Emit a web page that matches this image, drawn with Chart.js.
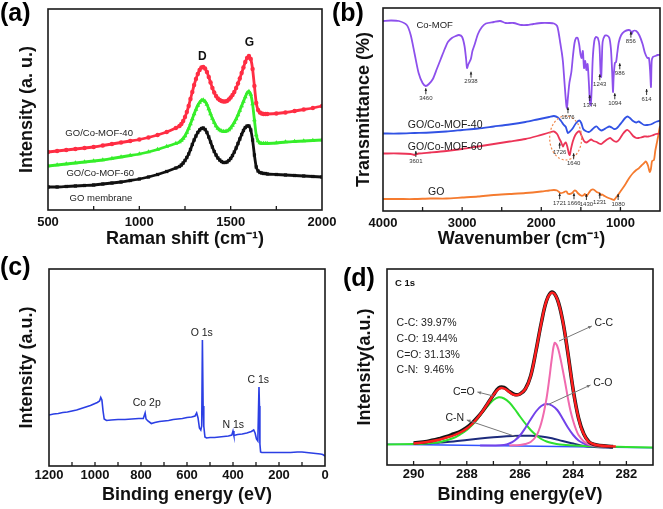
<!DOCTYPE html>
<html><head><meta charset="utf-8">
<script src="https://cdn.jsdelivr.net/npm/chart.js@4.4.1/dist/chart.umd.min.js"></script>
<style>
html,body{margin:0;padding:0;background:#fff;}
#wrap{position:relative;width:663px;height:509px;overflow:hidden;background:#fff;}
canvas{position:absolute;}
.lbl{position:absolute;font:bold 25px "Liberation Sans",Arial,sans-serif;line-height:1;color:#000;}
</style></head><body>
<div id="wrap">
<canvas id="ca" width="345" height="255" style="left:0;top:0"></canvas>
<canvas id="cb" width="332" height="255" style="left:331px;top:0"></canvas>
<canvas id="cc" width="331" height="254" style="left:0;top:255px"></canvas>
<canvas id="cd" width="332" height="254" style="left:331px;top:255px"></canvas>
<div class="lbl" style="left:0;top:0">(a)</div>
<div class="lbl" style="left:332px;top:0">(b)</div>
<div class="lbl" style="left:0;top:254px">(c)</div>
<div class="lbl" style="left:343px;top:265px">(d)</div>
</div>
<script>
// ================= DATA =================
// (a) Raman spectra
const ramanShift = [500,550,600,650,700,750,800,850,900,950,1000,1050,1100,1150,1200,
 1220,1230,1240,1250,1260,1270,1280,1290,1300,1310,1320,1330,1340,1350,1360,1370,1380,1390,1400,1410,
 1420,1430,1440,1450,1460,1470,1480,1490,1500,1510,1520,1530,1540,1550,1560,1570,1580,1590,1600,1610,
 1620,1630,1640,1650,1660,1670,1680,1690,1700,1750,1800,1850,1900,1950,2000];
const ramanMof40 = [58,59,60,61,62,63,64.5,66,67.5,69,70.5,72.5,75,78,82,
 84,86,89,93,98,104,111,118,125,131,136,140,142.5,143,141.5,138,133,127.5,122,117.5,
 114,111.5,110,109,108.5,108.5,109,110.5,112.5,115,118,122,126.5,131.5,137,142.5,148,152,154,151,
 141,124,107,100,97.5,96.5,96,96,96,96.5,97.5,99,100.5,102,104];
const ramanMof60 = [44,45,46,47,48,49,50,51.5,53,54.5,56,58,60.5,63.5,66.5,
 68,69.5,71.5,74,77.5,81.5,86,91,96,100.5,104.5,107.5,109.5,110,108.5,105.5,101,96,91.5,87.5,
 84,81.5,80,79,78.5,78.5,79,80,82,84.5,87.5,91,95,99.5,104,108.5,113,117,118.5,115.5,
 106,90,75,69,67,66.5,66.5,66.5,66.5,67,68,68.5,69,69.5,70];
const ramanGO = [23,23,23.5,24,24.5,25,26,27,28,29.5,31,33,35.5,38.5,42,
 43.5,45,47,49.5,52.5,56,60.5,65.5,70,74,77.5,80,81.5,82,80.5,77.5,73,68,63,58.5,
 55,52,50,48.5,47.5,47.5,48,49.5,51.5,54.5,58,62,66.5,71,75.5,79.5,82.5,84,84,80,
 70,55,43,39,37.5,37,36.5,36.5,36,35.5,35,34.5,34,33.5,33];
const ramanTicks = [500,1000,1500,2000];

// (b) FTIR spectra [wavenumber, transmittance (a.u.)]
const ftirCoMof = [[4000,190],[3900,190.5],[3800,190],[3700,186],[3650,176],[3600,157],[3550,138],[3500,128],[3460,125],
 [3420,127],[3370,132],[3320,142],[3270,152],[3220,162],[3180,169],[3130,173],[3080,175],[3040,176],[3000,174],
 [2970,165],[2950,152],[2938,143],[2920,147],[2890,152],[2870,160],[2840,167],[2800,177],[2750,184],[2700,187.5],
 [2600,189],[2520,190],[2450,188],[2350,188],[2250,186],[2180,186],[2100,187],[2000,188],[1900,188],[1840,187.5],
 [1800,185],[1782,179],[1760,168],[1740,158],[1726,149],[1710,132],[1695,116],[1684,106],[1676,103],[1665,112],
 [1645,128],[1620,139],[1600,155],[1580,168],[1560,173],[1540,173],[1520,166],[1505,157],[1490,153],[1475,160],
 [1460,143],[1445,150],[1430,141],[1415,147],[1400,130],[1385,108],[1374,106],[1362,125],[1350,152],[1330,170],
 [1310,174],[1285,173],[1265,165],[1252,140],[1243,134],[1235,150],[1225,169],[1200,175],[1170,175.5],[1140,173],
 [1120,162],[1105,140],[1094,119],[1085,135],[1070,148],[1055,149],[1040,158],[1020,169],[990,176],[950,179.5],
 [900,181],[870,180],[856,177],[840,180],[800,180],[760,175.5],[720,167],[690,158],[660,153],[640,153],
 [625,140],[614,124],[605,150],[590,154],[560,155],[530,156],[500,156]];
const ftirMof40 = [[4000,77.5],[3800,77.5],[3600,78],[3400,78.5],[3200,79.5],[3000,81],[2800,82.5],[2600,84.5],
 [2400,86.5],[2200,89],[2050,91.5],[1900,94],[1840,95],[1790,93.5],[1750,90],[1720,86.5],[1690,84],[1665,78],
 [1645,79],[1620,81],[1600,83],[1560,88],[1520,90.5],[1495,88],[1470,82],[1440,80],[1400,79],[1370,80.5],
 [1330,83.5],[1300,84.5],[1270,82],[1240,80.5],[1210,81.5],[1170,83.5],[1140,84.5],[1110,83.5],[1080,82],
 [1050,82.5],[1020,85],[980,89],[940,93],[910,94.5],[880,93],[840,90],[800,88.5],[770,89.5],[740,88],
 [700,86],[660,86],[620,86.5],[580,88],[540,89.5],[500,90.5]];
const ftirMof60 = [[4000,57.5],[3800,57.5],[3650,57],[3601,56],[3550,57.5],[3400,58.5],[3200,60],[3000,62],
 [2800,64.5],[2600,67],[2400,69.5],[2200,72],[2050,75],[1900,78.5],[1840,79.5],[1800,77],[1770,72],[1750,69],
 [1726,64.5],[1710,67],[1690,68.5],[1670,64],[1650,57],[1640,56],[1625,62],[1600,70],[1570,76],[1540,79],
 [1515,79.5],[1490,75],[1460,70],[1430,68.5],[1400,70],[1370,71.5],[1340,70],[1300,69],[1270,67.5],[1240,67],
 [1210,69],[1170,71.5],[1130,73],[1100,71],[1070,69.5],[1040,69.5],[1010,72],[970,77],[930,80.5],[910,81],
 [880,79],[840,75],[800,73],[770,73],[740,73.5],[700,74.5],[650,74.5],[600,75.5],[550,77],[500,77.5]];
const ftirGO = [[4000,12],[3800,12],[3600,12],[3400,12.5],[3200,12.5],[3000,13.5],[2800,14.5],[2600,16],[2400,17],
 [2200,18],[2000,19.5],[1900,20.5],[1840,21],[1800,20.5],[1760,18],[1721,18.5],[1700,19.5],[1680,19.5],[1666,17.5],
 [1640,17],[1610,18],[1580,20.5],[1560,20],[1540,18],[1500,15.5],[1470,15.5],[1450,17],[1430,15],[1400,18],
 [1370,21],[1340,21.5],[1300,19],[1270,18],[1240,16],[1231,16.5],[1200,15],[1150,13],[1100,11.5],[1080,11],
 [1060,13],[1030,16],[1000,19.5],[960,24],[920,29],[880,34],[840,38],[800,41],[770,42.5],[740,45],[700,48],
 [680,49.5],[665,48],[650,45],[630,39],[615,42],[600,50],[576,51],[560,60],[540,68],[525,74],[510,81],[500,85]];
const ftirTicks = [1000,2000,3000,4000];

// (c) XPS survey [binding energy, intensity]
const xpsSurvey = [[1200,51],[1180,52],[1160,52.5],[1140,53.5],[1120,54],[1100,55],[1080,56],[1060,57.5],[1040,59],
 [1020,60.5],[1000,62.5],[990,63.5],[980,65],[975,68.5],[970,66],[965,55],[960,47],[950,45.5],[930,46],[900,46.5],
 [870,46.5],[840,47],[810,47.5],[790,47.5],[782,53],[778,47],[770,45],[755,42.5],[740,43.5],[720,44.5],[700,45],
 [680,45.5],[660,46.5],[640,47],[620,47.5],[600,48.5],[580,49],[565,50],[558,53],[552,48],[546,38],[540,36],
 [536,40],[533,126],[530,60],[527,40],[522,29],[515,28],[500,28.5],[480,28.5],[460,29],[440,29.5],[420,30],
 [405,31],[400,35],[396,30.5],[380,31.5],[360,32],[340,33],[320,34.5],[310,36],[304,33],[298,27],[292,25],
 [287,79],[285,60],[283,22],[280,14],[275,13.5],[250,13.5],[220,13.5],[200,13.5],[180,13.5],[150,13.5],
 [120,14],[100,14],[80,13.5],[60,13],[40,12.5],[20,12],[10,11.5],[0,10]];
const xpsTicks = [0,200,400,600,800,1000,1200];

// (d) C 1s high-resolution fit [binding energy, intensity]
const c1sData = [[290,22],[289.5,23.5],[289,26.5],[288.75,28.5],[288.5,31],[288.25,33.5],[288,37.5],[287.8,42],
 [287.6,47.5],[287.4,54],[287.2,62],[287,70],[286.8,77],[286.6,77.5],[286.4,73.5],[286.2,70.5],[286,71],[285.8,76],
 [285.6,89],[285.4,114],[285.2,142],[285,164.5],[284.8,173],[284.6,166],[284.4,145],[284.2,112],[284,75],
 [283.8,47],[283.6,31],[283.4,23],[283.2,20.5],[283,19.5],[282.5,18.5]];
const c1sEnvelope = [[290,21.5],[289.5,23],[289,25.5],[288.75,27.5],[288.5,29.5],[288.25,32.5],[288,36.5],[287.8,41],
 [287.6,47],[287.4,54],[287.2,62],[287,70],[286.9,73.5],[286.8,76],[286.7,77],[286.6,76.5],[286.5,75],[286.4,73],
 [286.3,71],[286.2,70],[286.1,70],[286,71],[285.9,73],[285.8,76],[285.7,81],[285.6,89],[285.5,100],[285.4,114],
 [285.3,128],[285.2,142],[285.1,155],[285,164.5],[284.9,170],[284.8,172.3],[284.7,171],[284.6,166],[284.5,157],
 [284.4,145],[284.3,130],[284.2,112],[284.1,93],[284,75],[283.9,59],[283.8,47],[283.7,37],[283.6,31],[283.5,26],
 [283.4,23],[283.2,20.5],[283,19.5],[282.7,18.8],[282.4,18.5]];
const c1sCC = [[286.4,19.5],[286,20],[285.8,21],[285.6,23],[285.4,28.5],[285.3,34],[285.2,42],[285.1,53],[285,67],
 [284.9,86],[284.8,107],[284.7,122],[284.6,119],[284.5,109],[284.4,96],[284.3,82],[284.2,67],[284.1,54],[284,44],
 [283.9,36],[283.8,30],[283.6,23.5],[283.4,20.5],[283.2,19],[283,18.5],[282.6,18]];
const c1sCO = [[287.5,19.5],[287,19.5],[286.6,20],[286.4,21.5],[286.2,24.5],[286,29.5],[285.8,37],[285.6,45.5],
 [285.4,53.5],[285.2,59],[285,61],[284.8,59.5],[284.6,55],[284.4,46.5],[284.2,37.5],[284,30],[283.8,24.5],
 [283.6,21.5],[283.4,20],[283,19],[282.5,18]];
const c1sCdO = [[291,20.5],[290,21],[289.5,21.5],[289,23],[288.5,27],[288.25,30.5],[288,35],[287.8,40],[287.6,46],
 [287.4,53],[287.2,59.5],[287,65],[286.8,67.7],[286.6,66.5],[286.4,62.5],[286.2,56],[286,48.5],[285.8,41.5],
 [285.6,35],[285.4,30],[285.2,26],[285,23.5],[284.8,22],[284.5,20.5],[284,19.5],[283,18.5],[282,18],[281,17.5]];
const c1sCN = [[290,21],[289.5,21.5],[289,22.5],[288.5,23.5],[288,25],[287.5,26.5],[287,27.8],[286.5,28.8],
 [286,29.3],[285.6,29.3],[285.2,28.5],[284.8,26.7],[284.4,24],[284,21.5],[283.6,19],[283.2,18],[282.8,17.5],[282.5,17.3]];
const c1sBaseline = [[291,20.7],[281,17.3]];
const c1sTicks = [282,284,286,288,290];

// ================= HELPERS =================
const FONT = '"Liberation Sans", Arial, Helvetica, sans-serif';
const pts = a => a.map(p => ({x: p[0], y: p[1]}));
const zip = (xs, ys) => xs.map((x, i) => ({x, y: ys[i]}));

const boxPlugin = {
  id: 'box',
  afterDatasetsDraw(chart, args, o) {
    const {ctx, chartArea: {left, top, right, bottom}} = chart;
    ctx.save();
    ctx.strokeStyle = '#1a1a1a'; ctx.lineWidth = 1.6;
    ctx.strokeRect(left, top, right - left, bottom - top);
    const xs = chart.scales.x;
    ctx.lineWidth = 1.3;
    xs.ticks.forEach((t, i) => {
      const px = xs.getPixelForTick(i);
      if (px <= left + 2 || px >= right - 2) return;
      ctx.beginPath(); ctx.moveTo(px, bottom); ctx.lineTo(px, bottom - (o.len || 4)); ctx.stroke();
    });
    ctx.restore();
  }
};
const notesPlugin = {
  id: 'notes',
  afterDatasetsDraw(chart, args, o) {
    const {ctx} = chart; const xs = chart.scales.x, ys = chart.scales.y;
    const P = (x, y) => [xs.getPixelForValue(x), ys.getPixelForValue(y)];
    ctx.save();
    (o.ellipses || []).forEach(e => {
      const [cx, cy] = P(e.x, e.y);
      ctx.strokeStyle = e.color; ctx.lineWidth = 1.2; ctx.setLineDash([2, 2]);
      ctx.beginPath(); ctx.ellipse(cx, cy, e.rx, e.ry, 0, 0, Math.PI * 2); ctx.stroke();
      ctx.setLineDash([]);
    });
    (o.arrows || []).forEach(a => {
      const [x1, y1] = P(a.x1, a.y1), [x2, y2] = P(a.x2, a.y2);
      ctx.strokeStyle = a.color; ctx.fillStyle = a.color; ctx.lineWidth = a.w || 1;
      ctx.beginPath(); ctx.moveTo(x1, y1); ctx.lineTo(x2, y2); ctx.stroke();
      const ang = Math.atan2(y2 - y1, x2 - x1), h = a.head || 4;
      ctx.beginPath(); ctx.moveTo(x2, y2);
      ctx.lineTo(x2 - h * Math.cos(ang - 0.45), y2 - h * Math.sin(ang - 0.45));
      ctx.lineTo(x2 - h * Math.cos(ang + 0.45), y2 - h * Math.sin(ang + 0.45));
      ctx.closePath(); ctx.fill();
    });
    (o.texts || []).forEach(t => {
      const [px, py] = P(t.x, t.y);
      ctx.font = t.font; ctx.fillStyle = t.color || '#111';
      ctx.textAlign = t.align || 'center'; ctx.textBaseline = 'middle';
      ctx.fillText(t.text, px, py);
    });
    ctx.restore();
  }
};

function makeOpts(c) {
  return {
    responsive: false, animation: false, devicePixelRatio: 1,
    layout: {padding: {left: 0, top: c.top, right: c.right, bottom: 0}},
    plugins: {legend: {display: false}, tooltip: {enabled: false}, box: {len: 4}, notes: c.notes},
    scales: {
      x: {
        type: 'linear', min: c.xmin, max: c.xmax, reverse: !!c.reverse,
        afterFit: s => { s.height = c.xh; },
        afterBuildTicks: s => { s.ticks = c.tickVals.map(v => ({value: v})); },
        grid: {display: false, drawTicks: false}, border: {display: false},
        ticks: {autoSkip: false, maxRotation: 0, padding: c.tickPad, color: '#111',
          font: {family: FONT, size: 13, weight: 'bold'},
          callback: v => (c.labels.indexOf(v) >= 0 ? String(v) : '')},
        title: {display: true, text: c.xTitle, color: '#111', font: {family: FONT, size: 18, weight: 'bold'},
          padding: {top: 0, bottom: c.xtPad}}
      },
      y: {
        type: 'linear', min: 0, max: c.ymax,
        afterFit: s => { s.width = c.yw; },
        grid: {display: false, drawTicks: false}, border: {display: false},
        ticks: {display: false},
        title: {display: true, text: c.yTitle, color: '#111', font: {family: FONT, size: 18, weight: 'bold'},
          padding: {top: c.ytPad, bottom: 0}}
      }
    }
  };
}
function rangeTicks(a, b, s) { const r = []; for (let v = a; v <= b + 1e-9; v += s) r.push(Math.round(v * 100) / 100); return r; }

// ================= (a) =================
new Chart(document.getElementById('ca'), {
  type: 'line',
  data: {datasets: [
    {data: zip(ramanShift, ramanMof40), borderColor: '#ff2d43', backgroundColor: '#ff2d43', borderWidth: 2.8,
      pointStyle: 'circle', pointRadius: 2.2, pointBorderWidth: 0, tension: 0.2},
    {data: zip(ramanShift, ramanMof60), borderColor: '#36ee2a', backgroundColor: '#36ee2a', borderWidth: 2.8,
      pointStyle: 'triangle', pointRadius: 2.7, pointBorderWidth: 0, tension: 0.2},
    {data: zip(ramanShift, ramanGO), borderColor: '#111', backgroundColor: '#111', borderWidth: 2.8,
      pointStyle: 'rect', pointRadius: 2.3, pointBorderWidth: 0, tension: 0.2}
  ]},
  options: makeOpts({top: 9, right: 23, xh: 45, yw: 48, xmin: 500, xmax: 2000, ymax: 201,
    tickVals: rangeTicks(500, 2000, 250), labels: ramanTicks, tickPad: 5, xtPad: 5, ytPad: 16,
    xTitle: 'Raman shift (cm\u207B\u00B9)', yTitle: 'Intensity (a. u.)',
    notes: {texts: [
      {text: 'D', x: 1345, y: 153, font: 'bold 12px ' + FONT},
      {text: 'G', x: 1602, y: 167, font: 'bold 12px ' + FONT},
      {text: 'GO/Co-MOF-40', x: 780, y: 77, font: '9.5px ' + FONT, color: '#222'},
      {text: 'GO/Co-MOF-60', x: 786, y: 37, font: '9.5px ' + FONT, color: '#222'},
      {text: 'GO membrane', x: 790, y: 12, font: '9.5px ' + FONT, color: '#222'}
    ]}}),
  plugins: [boxPlugin, notesPlugin]
});

// ================= (b) =================
const pk = (t, x, y) => ({text: t, x, y, font: '6px ' + FONT, color: '#333'});
const pa = (x, y) => ({x1: x, y1: y + 4, x2: x, y2: y + 10, color: '#222', w: 0.9, head: 3});
const peakLabels = [['3460',3459,112.7],['2938',2888,129.3],['1676',1663,93.7],['1374',1388,106],['1243',1261,126.7],
  ['1094',1071,107.7],['986',1008,137.7],['856',868,169.3],['614',669,112],['1726',1768,58.3],['1640',1591,47.7],
  ['3601',3585,50],['1721',1768,7.7],['1666',1587,7.7],['1430',1430,7],['1231',1261,8.3],['1080',1029,7]];
new Chart(document.getElementById('cb'), {
  type: 'line',
  data: {datasets: [
    {data: pts(ftirCoMof), borderColor: '#8d50ec', borderWidth: 1.8, pointRadius: 0, tension: 0.25},
    {data: pts(ftirMof40), borderColor: '#3152e4', borderWidth: 1.8, pointRadius: 0, tension: 0.25},
    {data: pts(ftirMof60), borderColor: '#ec3457', borderWidth: 1.8, pointRadius: 0, tension: 0.25},
    {data: pts(ftirGO), borderColor: '#f57b2f', borderWidth: 1.8, pointRadius: 0, tension: 0.25}
  ]},
  options: makeOpts({top: 8, right: 3, xh: 44, yw: 52, xmin: 500, xmax: 4000, reverse: true, ymax: 203,
    tickVals: rangeTicks(500, 4000, 500), labels: ftirTicks, tickPad: 5, xtPad: 5, ytPad: 22,
    xTitle: 'Wavenumber (cm\u207B\u00B9)', yTitle: 'Transmittance (%)',
    notes: {
      texts: [
        {text: 'Co-MOF', x: 3347, y: 186, font: '9.5px ' + FONT, color: '#222'},
        {text: 'GO/Co-MOF-40', x: 3214, y: 86, font: '10.5px ' + FONT, color: '#1a1a1a'},
        {text: 'GO/Co-MOF-60', x: 3214, y: 64, font: '10.5px ' + FONT, color: '#1a1a1a'},
        {text: 'GO', x: 3328, y: 19, font: '10.5px ' + FONT, color: '#1a1a1a'}
      ].concat(peakLabels.map(p => pk(p[0], p[1], p[2]))),
      arrows: peakLabels.map(p => pa(p[1], p[2])),
      ellipses: [{x: 1692, y: 73, rx: 16, ry: 22, color: '#f08a50'}]
    }}),
  plugins: [boxPlugin, notesPlugin]
});

// ================= (c) =================
new Chart(document.getElementById('cc'), {
  type: 'line',
  data: {datasets: [
    {data: pts(xpsSurvey), borderColor: '#2b3fe4', borderWidth: 1.6, pointRadius: 0, tension: 0}
  ]},
  options: makeOpts({top: 14, right: 6, xh: 43, yw: 49, xmin: 0, xmax: 1200, reverse: true, ymax: 197,
    tickVals: rangeTicks(0, 1200, 100), labels: xpsTicks, tickPad: 2, xtPad: 3, ytPad: 16,
    xTitle: 'Binding energy (eV)', yTitle: 'Intensity (a.u.)',
    notes: {texts: [
      {text: 'O 1s', x: 536, y: 132.7, font: '10.5px ' + FONT, color: '#222'},
      {text: 'C 1s', x: 290, y: 86, font: '10.5px ' + FONT, color: '#222'},
      {text: 'Co 2p', x: 775, y: 62.7, font: '10.5px ' + FONT, color: '#222'},
      {text: 'N 1s', x: 399, y: 41, font: '10.5px ' + FONT, color: '#222'}
    ]}}),
  plugins: [boxPlugin, notesPlugin]
});

// ================= (d) =================
const gray = '#777';
new Chart(document.getElementById('cd'), {
  type: 'line',
  data: {datasets: [
    {data: pts(c1sEnvelope), borderColor: '#ff1e1e', borderWidth: 2.4, pointRadius: 0, tension: 0.35},
    {data: pts(c1sData), borderColor: '#151515', borderWidth: 3.6, pointRadius: 0, tension: 0.35},
    {data: pts(c1sCC), borderColor: '#f06aae', borderWidth: 2, pointRadius: 0, tension: 0.35},
    {data: pts(c1sCO), borderColor: '#7242ea', borderWidth: 2, pointRadius: 0, tension: 0.35},
    {data: pts(c1sCdO), borderColor: '#2fe02f', borderWidth: 2, pointRadius: 0, tension: 0.35},
    {data: pts(c1sCN), borderColor: '#1d2b7c', borderWidth: 2, pointRadius: 0, tension: 0.35},
    {data: pts(c1sBaseline), borderColor: '#3152ff', borderWidth: 1.6, pointRadius: 0, tension: 0}
  ]},
  options: makeOpts({top: 14, right: 10, xh: 44, yw: 56, xmin: 281, xmax: 291, reverse: true, ymax: 196,
    tickVals: rangeTicks(281, 291, 1), labels: c1sTicks, tickPad: 2, xtPad: 3, ytPad: 23,
    xTitle: 'Binding energy(eV)', yTitle: 'Intensity(a.u.)',
    notes: {
      texts: [
        {text: 'C 1s', x: 290.7, y: 181.7, font: 'bold 9.5px ' + FONT, align: 'left'},
        {text: 'C-C: 39.97%', x: 290.64, y: 142, font: '10.5px ' + FONT, align: 'left', color: '#222'},
        {text: 'C-O: 19.44%', x: 290.64, y: 126, font: '10.5px ' + FONT, align: 'left', color: '#222'},
        {text: 'C=O: 31.13%', x: 290.64, y: 110, font: '10.5px ' + FONT, align: 'left', color: '#222'},
        {text: 'C-N:  9.46%', x: 290.64, y: 95, font: '10.5px ' + FONT, align: 'left', color: '#222'},
        {text: 'C-C', x: 283.2, y: 141.7, font: '10.5px ' + FONT, align: 'left', color: '#222'},
        {text: 'C-O', x: 283.25, y: 81.7, font: '10.5px ' + FONT, align: 'left', color: '#222'},
        {text: 'C=O', x: 287.7, y: 73.3, font: '10.5px ' + FONT, align: 'right', color: '#222'},
        {text: 'C-N', x: 288.1, y: 46.7, font: '10.5px ' + FONT, align: 'right', color: '#222'}
      ],
      arrows: [
        {x1: 284.53, y1: 124, x2: 283.3, y2: 139, color: gray, w: 1, head: 4},
        {x1: 284.98, y1: 60, x2: 283.35, y2: 80, color: gray, w: 1, head: 4},
        {x1: 287.0, y1: 69, x2: 287.6, y2: 73, color: gray, w: 1, head: 4},
        {x1: 286.11, y1: 28, x2: 288.0, y2: 45, color: gray, w: 1, head: 4}
      ]
    }}),
  plugins: [boxPlugin, notesPlugin]
});
</script>
</body></html>
